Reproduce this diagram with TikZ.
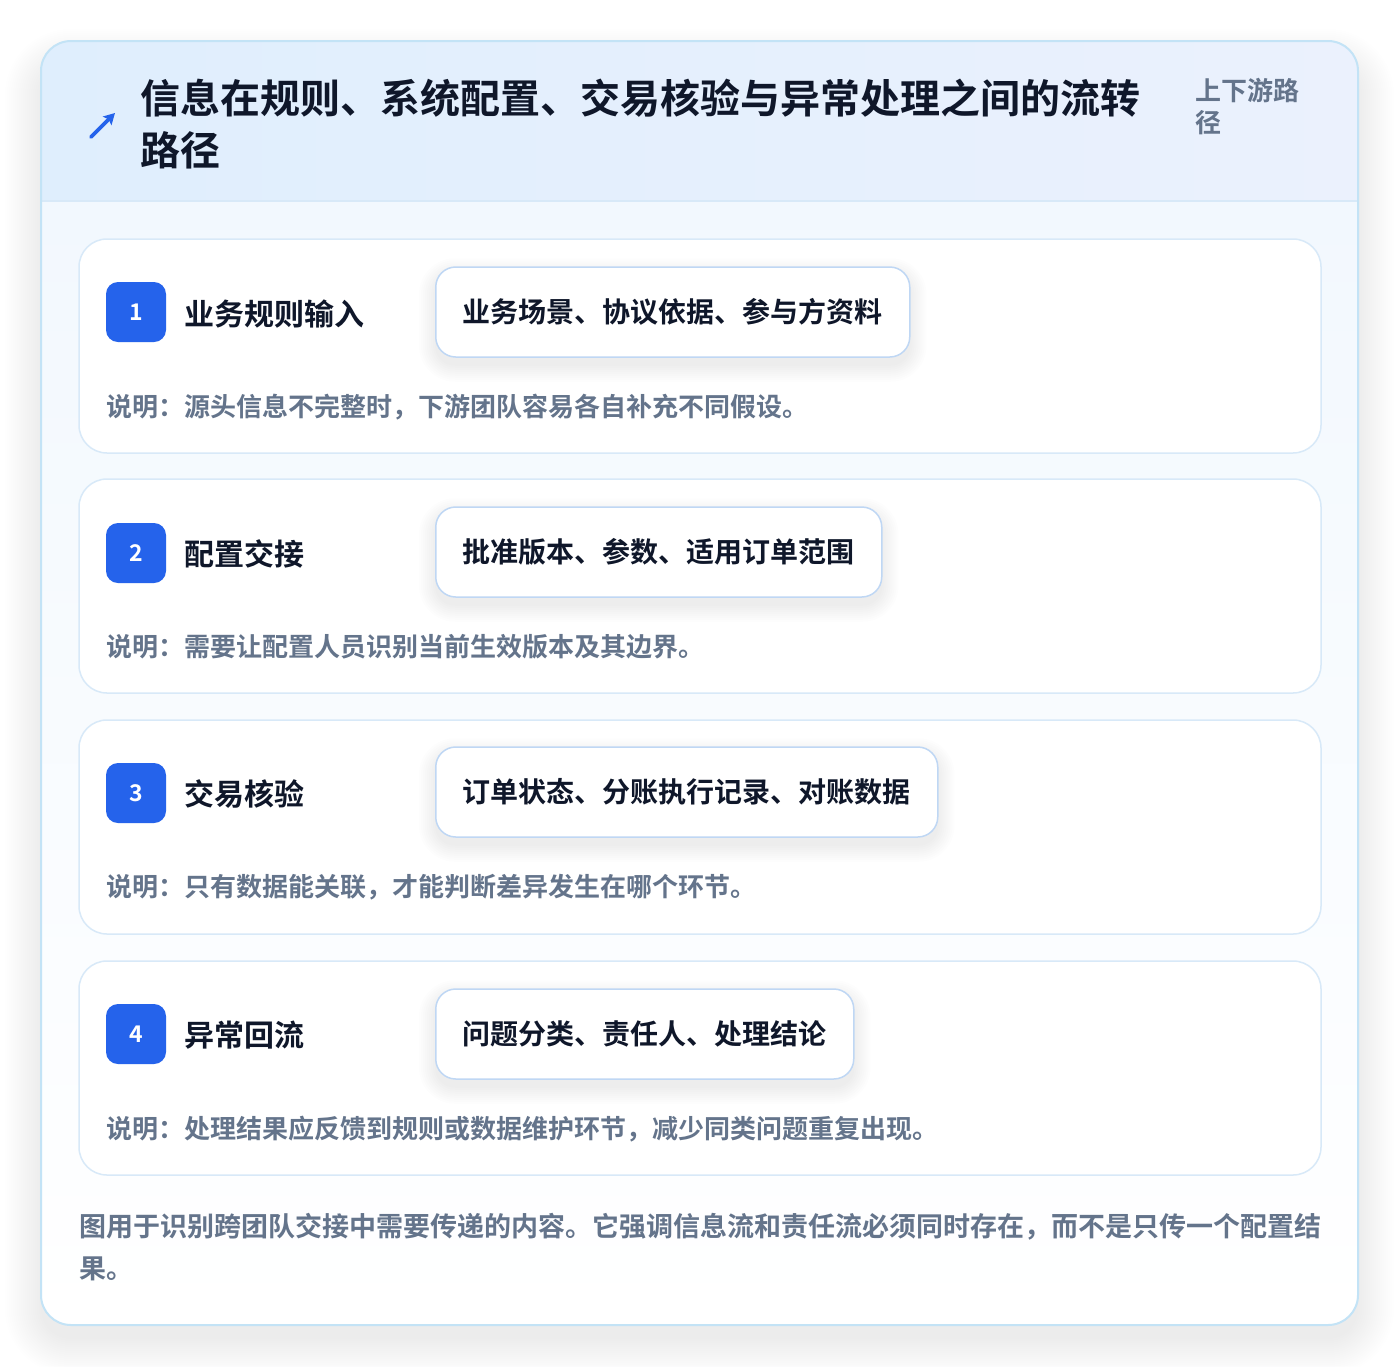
\documentclass[tikz,border=0pt]{standalone}
\usepackage{fontspec}
\setmainfont{Noto Sans CJK SC}[BoldFont={* Bold}]
\usetikzlibrary{arrows.meta}
\pgfdeclarelayer{bg}
\pgfdeclarelayer{cards}
\pgfdeclarelayer{shad}
\pgfsetlayers{bg,cards,shad,main}
\definecolor{ink}{HTML}{0F172A}
\definecolor{muted}{HTML}{64748B}
\definecolor{brand}{HTML}{2563EB}
\definecolor{cardline}{HTML}{C3E3F6}
\definecolor{headA}{HTML}{DFEEFD}
\definecolor{headB}{HTML}{EBF1FD}
\definecolor{bodyA}{HTML}{F2F8FE}
\definecolor{stepline}{HTML}{D8E9F8}
\definecolor{pillline}{HTML}{BFD7F4}
\definecolor{shadowc}{HTML}{334155}
\tikzset{
  txt/.style={anchor=west, inner sep=0pt, font=\bfseries},
  stepcard/.style={draw=stepline, line width=1.5pt, fill=white, rounded corners=28pt, minimum width=1242pt, minimum height=214pt, inner sep=0pt},
  badge/.style={fill=brand, rounded corners=12pt, minimum size=60pt, inner sep=0pt, text=white, font=\bfseries\fontsize{23}{23}\selectfont},
  steptitle/.style={txt, text=ink, font=\bfseries\fontsize{30}{30}\selectfont},
  pill/.style={anchor=west, draw=pillline, line width=1.5pt, fill=white, rounded corners=20pt, minimum height=90pt, inner xsep=27pt, inner ysep=0pt, text=ink, font=\bfseries\fontsize{28}{28}\selectfont},
  desc/.style={txt, text=muted, font=\bfseries\fontsize{26}{26}\selectfont},
  foot/.style={txt, text=muted, font=\bfseries\fontsize{27}{27}\selectfont},
}
\begin{document}
\begin{tikzpicture}[x=1pt,y=-1pt]
\useasboundingbox (0,0) rectangle (1400,1366);
\begin{pgfonlayer}{bg}
\fill[white] (0,0) rectangle (1400,1366);
% outer card soft shadow
\foreach \i in {0,2,...,36} {
  \fill[shadowc, opacity=0.0045, rounded corners={30pt+\i pt}] (41-\i,41-\i+24) rectangle (1358+\i,1325+\i+14);
}
\begin{scope}
  \clip[rounded corners=30pt] (41,41) rectangle (1358,1325);
  \fill[white] (41,41) rectangle (1358,1325);
  \shade[top color=bodyA, bottom color=white] (41,201) rectangle (1358,1325);
  \shade[left color=headA, right color=headB] (41,41) rectangle (1358,201);
  \draw[stepline, line width=1.5pt] (41,201) -- (1358,201);
\end{scope}
\draw[cardline, line width=2pt, rounded corners=30pt] (41,41) rectangle (1358,1325);
\end{pgfonlayer}

% header
\coordinate (arrA) at (91,137);
\coordinate (arrB) at (115,113);
\draw[brand, line width=3.6pt, line cap=round, -{Stealth[length=11pt,width=12pt,inset=2pt]}] (arrA) -- (arrB);
\node[txt, text=ink, font=\bfseries\fontsize{40}{40}\selectfont] (title1) at (140,98) {信息在规则、系统配置、交易核验与异常处理之间的流转};
\node[txt, text=ink, font=\bfseries\fontsize{40}{40}\selectfont] (title2) at (140,150) {路径};
\node[txt, text=muted, font=\bfseries\fontsize{26}{26}\selectfont] (tag1) at (1195,90) {上下游路};
\node[txt, text=muted, font=\bfseries\fontsize{26}{26}\selectfont] (tag2) at (1195,123) {径};

% step cards
\begin{pgfonlayer}{cards}
\node[stepcard] (c1) at (700,346) {};
\node[stepcard] (c2) at (700,586) {};
\node[stepcard] (c3) at (700,827) {};
\node[stepcard] (c4) at (700,1068) {};
\end{pgfonlayer}

\node[badge] (b1) at (136,312) {1};
\node[steptitle] (t1) at (184,314) {业务规则输入};
\node[pill] (p1) at (435,312) {业务场景、协议依据、参与方资料};
\node[desc] (d1) at (106,407) {说明：源头信息不完整时，下游团队容易各自补充不同假设。};

\node[badge] (b2) at (136,553) {2};
\node[steptitle] (t2) at (184,554) {配置交接};
\node[pill] (p2) at (435,552) {批准版本、参数、适用订单范围};
\node[desc] (d2) at (106,647) {说明：需要让配置人员识别当前生效版本及其边界。};

\node[badge] (b3) at (136,793) {3};
\node[steptitle] (t3) at (184,794) {交易核验};
\node[pill] (p3) at (435,792) {订单状态、分账执行记录、对账数据};
\node[desc] (d3) at (106,887) {说明：只有数据能关联，才能判断差异发生在哪个环节。};

\node[badge] (b4) at (136,1034) {4};
\node[steptitle] (t4) at (184,1035) {异常回流};
\node[pill] (p4) at (435,1034) {问题分类、责任人、处理结论};
\node[desc] (d4) at (106,1129) {说明：处理结果应反馈到规则或数据维护环节，减少同类问题重复出现。};

% pill shadows
\begin{pgfonlayer}{shad}
\foreach \p in {p1,p2,p3,p4} {
  \foreach \i in {0,2,...,16} {
    \fill[shadowc, opacity=0.007, rounded corners={20pt+\i pt}]
      ([xshift=-\i pt, yshift={\i pt-8pt}]\p.north west) rectangle ([xshift=\i pt, yshift={-\i pt-8pt}]\p.south east);
  }
}
\end{pgfonlayer}

% footer
\node[foot] (f1) at (79,1227) {图用于识别跨团队交接中需要传递的内容。它强调信息流和责任流必须同时存在，而不是只传一个配置结};
\node[foot] (f2) at (79,1269) {果。};
\end{tikzpicture}
\end{document}
